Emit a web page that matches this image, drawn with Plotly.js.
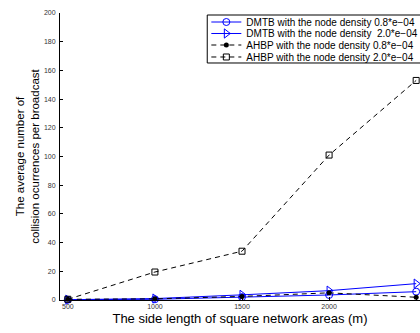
<!DOCTYPE html>
<html><head><meta charset="utf-8">
<script src="https://cdn.plot.ly/plotly-3.0.1.min.js"></script>
<style>html,body{margin:0;padding:0;background:#fff}#c{width:420px;height:333px}</style>
</head><body><div id="c"></div>
<script>
const sideLength = [500, 1000, 1500, 2000, 2500];
const dmtb08 = [0.2, 0.5, 2.0, 3.5, 5.8];
const dmtb20 = [0.2, 1.0, 3.6, 6.5, 11.4];
const ahbp08 = [0.5, 0.8, 2.5, 5.0, 1.9];
const ahbp20 = [0.5, 19.5, 34, 101, 153];
const names = [
  "DMTB with the node density 0.8*e\u221204",
  "DMTB with the node density  2.0*e\u221204",
  "AHBP with the node density 0.8*e\u221204",
  "AHBP with the node density 2.0*e\u221204"
];
const yTicks = [0,20,40,60,80,100,120,140,160,180,200];
const FAM = '"Liberation Sans", Arial, sans-serif';

const traces = [
  {x: sideLength, y: dmtb08, name: names[0], legend: 'legend', mode: 'lines+markers', cliponaxis: false,
   line: {color: '#0000ff', width: 1}, marker: {symbol: 'circle-open', size: 7, color: '#0000ff', line: {width: 1}}},
  {x: sideLength, y: dmtb20, name: names[1], legend: 'legend2', mode: 'lines+markers', cliponaxis: false,
   line: {color: '#0000ff', width: 1}, marker: {symbol: 'triangle-right-open', size: 8, color: '#0000ff', line: {width: 1}}},
  {x: sideLength, y: ahbp08, name: names[2], legend: 'legend3', mode: 'lines+markers', cliponaxis: false,
   line: {color: '#000000', width: 1, dash: '5px,4px'}, marker: {symbol: 'circle', size: 5, color: '#000000'}},
  {x: sideLength, y: ahbp20, name: names[3], legend: 'legend4', mode: 'lines+markers', cliponaxis: false,
   line: {color: '#000000', width: 1, dash: '5px,4px'}, marker: {symbol: 'square-open', size: 6, color: '#000000', line: {width: 1}}}
];

function leg(y) {
  return {x: 0.4065, y: y, xanchor: 'left', yanchor: 'middle',
    bgcolor: 'rgba(0,0,0,0)', borderwidth: 0,
    font: {family: FAM, size: 10, color: '#000'}, itemwidth: 30};
}

const layout = {
  width: 420, height: 333,
  margin: {l: 60, r: 0, t: 13, b: 33, pad: 0, autoexpand: false},
  paper_bgcolor: '#fff', plot_bgcolor: '#fff',
  font: {family: FAM, color: '#000'},
  showlegend: true,
  legend: leg(0.9686), legend2: leg(0.9286), legend3: leg(0.8885), legend4: leg(0.8467),
  shapes: [{type: 'rect', xref: 'paper', yref: 'paper', x0: 0.409, x1: 1.03, y0: 0.8258, y1: 0.993,
    fillcolor: '#fff', line: {color: '#000', width: 1}, layer: 'above'}],
  xaxis: {range: [455, 2522], tickvals: sideLength, ticktext: sideLength.map(String),
    showgrid: false, zeroline: false, showline: true, linecolor: '#000', linewidth: 1,
    ticks: 'inside', ticklen: 3, tickcolor: '#000',
    tickfont: {family: FAM, size: 7, color: '#333'},
    title: {text: 'The side length of square network areas (m)', font: {family: FAM, size: 13}, standoff: 4}},
  yaxis: {range: [0, 200], tickvals: yTicks,
    showgrid: false, zeroline: false, showline: true, linecolor: '#000', linewidth: 1,
    ticks: 'inside', ticklen: 3, tickcolor: '#000', ticklabelstandoff: 2,
    tickfont: {family: FAM, size: 7, color: '#333'},
    title: {text: 'The average number of<br>collision ocurrences per broadcast', font: {family: FAM, size: 11.5}, standoff: 1}}
};
Plotly.newPlot('c', traces, layout, {displayModeBar: false, staticPlot: true});
</script></body></html>
